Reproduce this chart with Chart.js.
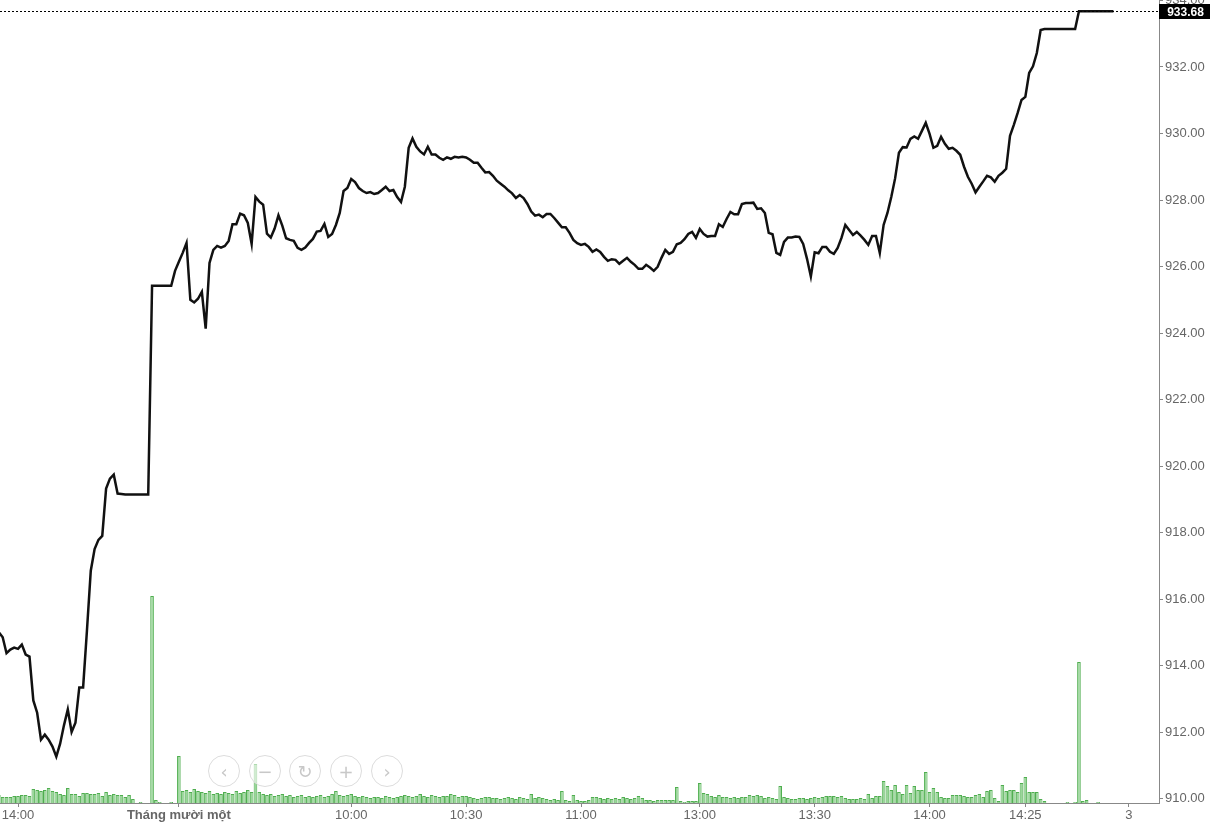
<!DOCTYPE html>
<html>
<head>
<meta charset="utf-8">
<script src="https://cdn.jsdelivr.net/npm/chart.js@4.4.1/dist/chart.umd.min.js"></script>
<style>
  html, body { margin: 0; padding: 0; background: #fff; }
  #wrap { position: relative; width: 1212px; height: 827px; overflow: hidden; }
  .nav { position: absolute; width: 30px; height: 30px; border: 1px solid #dcdcdc; border-radius: 50%;
         background: rgba(255,255,255,0.55); color: #c8c8c8; font: 18px "DejaVu Sans", sans-serif;
         display: flex; align-items: center; justify-content: center; top: 755px; }
</style>
</head>
<body>
<div id="wrap">
  <canvas id="c"></canvas>
  <div class="nav" style="left:208px">‹</div>
  <div class="nav" style="left:249px">−</div>
  <div class="nav" style="left:289px">↻</div>
  <div class="nav" style="left:330px">+</div>
  <div class="nav" style="left:371px">›</div>
</div>
<script>
// ---- data (one value per minute slot) ----
const prices = [
  915.0, 914.85, 914.37, 914.48, 914.54, 914.5, 914.63, 914.33, 914.27, 912.95,
  912.58, 911.77, 911.92, 911.77, 911.56, 911.26, 911.65, 912.2, 912.68, 912.0,
  912.28, 913.34, 913.34, 915.05, 916.85, 917.5, 917.78, 917.9, 919.32, 919.62,
  919.74, 919.17, 919.16, 919.14, 919.14, 919.14, 919.14, 919.14, 919.14, 919.14,
  925.42, 925.42, 925.42, 925.42, 925.42, 925.42, 925.87, 926.14, 926.41, 926.71,
  925.0, 924.92, 925.03, 925.24, 924.13, 926.11, 926.5, 926.62, 926.57, 926.62,
  926.77, 927.27, 927.27, 927.59, 927.54, 927.31, 926.68, 928.09, 927.95, 927.86,
  926.99, 926.87, 927.14, 927.54, 927.23, 926.85, 926.8, 926.77, 926.56, 926.5,
  926.57, 926.71, 926.83, 927.05, 927.07, 927.28, 926.89, 926.98, 927.25, 927.61,
  928.27, 928.36, 928.63, 928.54, 928.36, 928.27, 928.21, 928.24, 928.18, 928.21,
  928.3, 928.4, 928.27, 928.3, 928.09, 927.94, 928.4, 929.57, 929.85, 929.6,
  929.46, 929.37, 929.6, 929.37, 929.37, 929.27, 929.21, 929.28, 929.24, 929.3,
  929.28, 929.3, 929.28, 929.21, 929.12, 929.12, 928.97, 928.83, 928.84, 928.73,
  928.58, 928.49, 928.4, 928.29, 928.2, 928.06, 928.15, 928.06, 927.88, 927.65,
  927.53, 927.56, 927.48, 927.58, 927.58, 927.46, 927.32, 927.18, 927.18, 927.01,
  926.8, 926.7, 926.65, 926.68, 926.59, 926.44, 926.51, 926.44, 926.29, 926.17,
  926.22, 926.2, 926.08, 926.17, 926.26, 926.14, 926.05, 925.93, 925.93, 926.05,
  925.97, 925.87, 925.99, 926.26, 926.5, 926.38, 926.44, 926.67, 926.71, 926.82,
  926.98, 927.04, 926.86, 927.13, 926.98, 926.9, 926.92, 926.92, 927.27, 927.19,
  927.43, 927.64, 927.57, 927.57, 927.88, 927.91, 927.91, 927.92, 927.73, 927.75,
  927.61, 927.01, 926.97, 926.41, 926.35, 926.74, 926.87, 926.87, 926.9, 926.89,
  926.68, 926.23, 925.7, 926.43, 926.4, 926.59, 926.59, 926.44, 926.38, 926.56,
  926.86, 927.25, 927.1, 926.95, 927.04, 926.93, 926.8, 926.65, 926.92, 926.92,
  926.41, 927.25, 927.61, 928.09, 928.65, 929.42, 929.59, 929.58, 929.84, 929.91,
  929.84, 930.08, 930.32, 929.99, 929.57, 929.63, 929.9, 929.69, 929.54, 929.57,
  929.48, 929.36, 929.0, 928.7, 928.49, 928.23, 928.4, 928.56, 928.73, 928.68,
  928.55, 928.73, 928.82, 928.94, 929.93, 930.26, 930.62, 931.01, 931.1, 931.82,
  932.02, 932.42, 933.11, 933.14, 933.14, 933.14, 933.14, 933.14, 933.14, 933.14,
  933.14, 933.14, 933.68, 933.68, 933.68, 933.68, 933.68, 933.68, 933.68, 933.68,
  933.68, 933.68
];
const volumes = [
  8, 6, 6, 6, 7, 7, 8, 8, 7, 14,
  13, 12, 13, 15, 12, 11, 9, 8, 15, 9,
  9, 7, 10, 10, 9, 9, 10, 7, 11, 8,
  9, 8, 8, 6, 8, 4, 0, 1, 0, 0,
  207, 3, 1, 0, 0, 1, 0, 47, 12, 13,
  11, 14, 12, 11, 10, 12, 9, 10, 9, 11,
  10, 9, 12, 10, 11, 13, 11, 39, 11, 9,
  8, 9, 7, 8, 9, 7, 8, 6, 7, 8,
  6, 7, 6, 7, 8, 6, 7, 9, 12, 8,
  7, 8, 9, 7, 6, 7, 6, 5, 6, 6,
  5, 7, 6, 5, 6, 7, 8, 7, 6, 7,
  9, 7, 6, 8, 7, 6, 7, 7, 9, 8,
  6, 7, 7, 6, 5, 4, 5, 6, 6, 5,
  5, 4, 5, 6, 5, 4, 6, 5, 4, 9,
  5, 6, 5, 4, 3, 4, 3, 12, 3, 2,
  8, 3, 2, 2, 3, 6, 6, 5, 4, 5,
  4, 5, 4, 6, 5, 4, 5, 7, 5, 3,
  3, 2, 3, 3, 3, 3, 3, 16, 2, 1,
  2, 2, 2, 20, 10, 9, 7, 6, 8, 6,
  6, 5, 6, 5, 6, 6, 8, 7, 8, 7,
  5, 6, 5, 4, 17, 6, 5, 4, 4, 5,
  5, 4, 5, 6, 5, 6, 7, 7, 7, 6,
  7, 5, 4, 4, 4, 5, 4, 9, 5, 7,
  7, 22, 17, 13, 18, 11, 9, 18, 10, 17,
  13, 13, 31, 11, 15, 11, 6, 5, 5, 8,
  8, 8, 7, 6, 6, 8, 9, 6, 12, 13,
  5, 2, 18, 12, 13, 13, 11, 20, 26, 11,
  11, 11, 4, 2, 0, 0, 0, 0, 0, 1,
  0, 1, 141, 2, 3, 0, 0, 1, 0, 0,
  0, 0
];
const xTickSlots  = [5, 47, 92, 122, 152, 183, 213, 243, 268, 295];
const xTickLabels = ["14:00", "Tháng mười một", "10:00", "10:30", "11:00", "13:00", "13:30", "14:00", "14:25", "3"];
const xBoldLabel  = "Tháng mười một";
const yTickValues = [910, 912, 914, 916, 918, 920, 922, 924, 926, 928, 930, 932, 934];
const lastPrice = 933.68;

// ---- chart ----
const slots = prices.map((_, i) => i);
const FONT = 'Arial, "Liberation Sans", sans-serif';
const labelFor = (v) => { const i = xTickSlots.indexOf(v); return i >= 0 ? xTickLabels[i] : ''; };

const lastPricePlugin = {
  id: 'lastPrice',
  afterDraw(chart) {
    const { ctx, chartArea, scales } = chart;
    const y = Math.round(scales.y.getPixelForValue(lastPrice)) + 0.5;
    ctx.save();
    ctx.strokeStyle = '#000';
    ctx.lineWidth = 1;
    ctx.setLineDash([2, 2]);
    ctx.beginPath();
    ctx.moveTo(chartArea.left, y);
    ctx.lineTo(chartArea.right, y);
    ctx.stroke();
    ctx.setLineDash([]);
    const bx = chartArea.right, bw = 51, bh = 15;
    ctx.fillStyle = '#000';
    ctx.fillRect(bx, y - bh / 2, bw, bh);
    ctx.fillStyle = '#fff';
    ctx.font = 'bold 12px ' + FONT;
    ctx.textAlign = 'center';
    ctx.textBaseline = 'middle';
    ctx.fillText(lastPrice.toFixed(2), bx + bw / 2 + 1, y + 1);
    ctx.restore();
  }
};

new Chart(document.getElementById('c'), {
  data: {
    labels: slots,
    datasets: [
      {
        type: 'line',
        data: prices,
        yAxisID: 'y',
        borderColor: '#111',
        borderWidth: 2.5,
        pointRadius: 0,
        tension: 0,
        order: 0
      },
      {
        type: 'bar',
        data: volumes,
        yAxisID: 'vol',
        backgroundColor: '#9ad69a',
        borderColor: '#4fae4f',
        borderWidth: 1,
        barPercentage: 1,
        categoryPercentage: 0.95,
        order: 1
      }
    ]
  },
  options: {
    responsive: true,
    maintainAspectRatio: false,
    animation: false,
    layout: { padding: 0 },
    plugins: { legend: { display: false }, tooltip: { enabled: false } },
    scales: {
      x: {
        type: 'linear',
        offset: false,
        bounds: 'ticks',
        min: 0.3,
        max: 302.9,
        afterDataLimits: (s) => { s.min = 0.3; s.max = 302.9; },
        afterBuildTicks: (s) => { s.ticks = xTickSlots.map(v => ({ value: v })); },
        afterFit: (s) => { s.height = 24; s.paddingLeft = 0; s.paddingRight = 0; },
        ticks: {
          autoSkip: false,
          maxRotation: 0,
          padding: 1,
          color: '#666',
          font: (c) => ({ family: FONT, size: 13,
                          weight: (c.tick && labelFor(c.tick.value) === xBoldLabel) ? 'bold' : 'normal' }),
          callback: (v) => labelFor(v)
        },
        grid: { offset: false, drawOnChartArea: false, tickLength: 4, color: '#888' },
        border: { display: true, color: '#888' }
      },
      y: {
        position: 'right',
        min: 909.865,
        max: 934.015,
        afterBuildTicks: (s) => { s.ticks = yTickValues.map(v => ({ value: v })); },
        afterFit: (s) => { s.width = 53; s.paddingTop = 0; s.paddingBottom = 0; },
        ticks: {
          padding: 2,
          color: '#666',
          font: { family: FONT, size: 13 },
          callback: (v) => Number(v).toFixed(2)
        },
        grid: { drawOnChartArea: false, tickLength: 4, color: '#888' },
        border: { display: true, color: '#888' }
      },
      vol: {
        display: false,
        min: 0,
        max: 803
      }
    }
  },
  plugins: [lastPricePlugin]
});
</script>
</body>
</html>
